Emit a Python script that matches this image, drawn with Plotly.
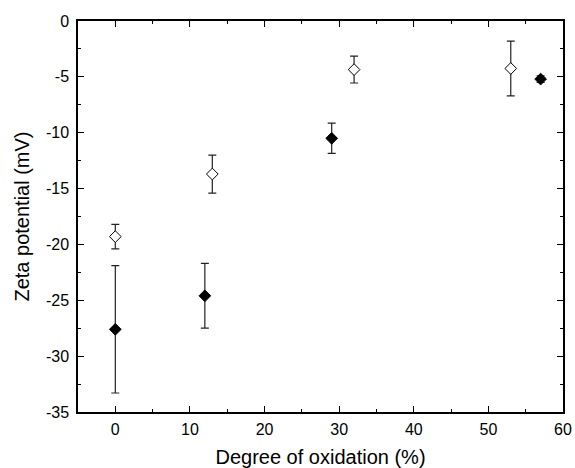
import plotly.graph_objects as go

# Filled diamonds series
filled_x = [0, 12, 29, 57]
filled_y = [-27.6, -24.6, -10.5, -5.2]
filled_err = [5.7, 2.9, 1.35, 0.3]

# Open diamonds series
open_x = [0, 13, 32, 53]
open_y = [-19.3, -13.7, -4.35, -4.25]
open_err = [1.1, 1.7, 1.2, 2.45]

x_ticks = [0, 10, 20, 30, 40, 50, 60]
y_ticks = [0, -5, -10, -15, -20, -25, -30, -35]

font_family = "Liberation Sans, Arial, sans-serif"

fig = go.Figure()
fig.add_trace(go.Scatter(
    x=filled_x, y=filled_y, mode="markers",
    marker=dict(symbol="diamond", size=9, color="black", line=dict(color="black", width=1)),
    error_y=dict(type="data", array=filled_err, visible=True, color="#222", thickness=1.2, width=4),
    showlegend=False,
))
fig.add_trace(go.Scatter(
    x=open_x, y=open_y, mode="markers",
    marker=dict(symbol="diamond", size=9, color="white", line=dict(color="black", width=1)),
    error_y=dict(type="data", array=open_err, visible=True, color="#222", thickness=1.2, width=4),
    showlegend=False,
))

axis_common = dict(
    showline=True, linecolor="black", linewidth=1.5, mirror="allticks",
    ticks="inside", ticklen=6, tickwidth=1, tickcolor="black",
    showgrid=False, zeroline=False, automargin=False,
    tickfont=dict(size=16, color="black", family=font_family),
    title_font=dict(size=20, color="black", family=font_family),
)

fig.update_xaxes(
    range=[-5, 60], tickvals=x_ticks, ticktext=[str(v) for v in x_ticks],
    minor=dict(dtick=5, tick0=0, ticks="inside", ticklen=3, tickcolor="black"),
    title_text="Degree of oxidation (%)", title_standoff=17, ticklabelstandoff=2,
    **axis_common,
)
fig.update_yaxes(
    range=[-35, 0], tickvals=y_ticks, ticktext=[str(v) for v in y_ticks],
    minor=dict(dtick=2.5, tick0=0, ticks="inside", ticklen=3, tickcolor="black"),
    title_text="Zeta potential (mV)", title_standoff=11, ticklabelstandoff=4,
    **axis_common,
)

fig.update_layout(
    width=575, height=468,
    margin=dict(l=78, r=12, t=21, b=56),
    plot_bgcolor="white", paper_bgcolor="white",
    font=dict(family=font_family, color="black"),
)

fig.write_html(
    "out.html",
    config={"displayModeBar": False},
    post_script="document.body.style.margin='0';document.body.style.overflow='hidden';",
)
